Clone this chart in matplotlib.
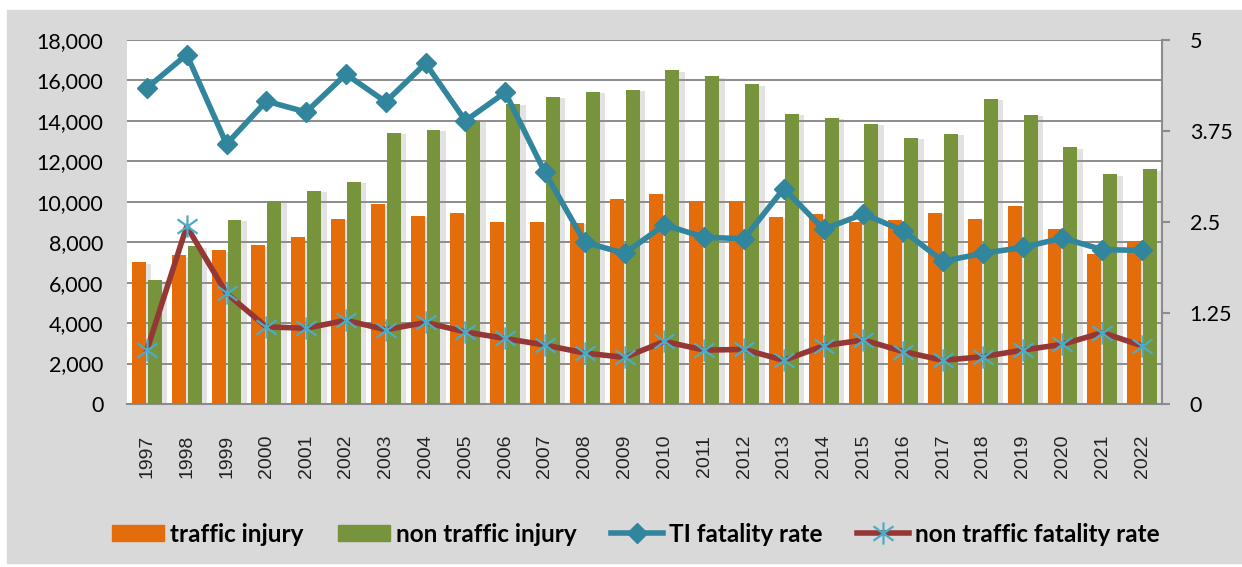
import numpy as np
import matplotlib
matplotlib.use("Agg")
import matplotlib.pyplot as plt
import matplotlib.patheffects as pe
from matplotlib.patches import Rectangle, Patch
from matplotlib.path import Path
from matplotlib.ticker import FuncFormatter

years = [str(y) for y in range(1997, 2023)]
traffic_injury = [7000, 7350, 7600, 7850, 8250, 9150, 9900, 9300, 9450, 9000,
                  9000, 8950, 10150, 10400, 10050, 10050, 9250, 9400, 9000, 9100,
                  9450, 9150, 9800, 8650, 7400, 8050]
non_traffic_injury = [6150, 7800, 9100, 10040, 10550, 11000, 13400, 13550, 14000, 14850,
                      15200, 15450, 15550, 16500, 16200, 15800, 14350, 14150, 13850, 13150,
                      13350, 15100, 14300, 12700, 11350, 11600]
ti_rate = [4.34, 4.80, 3.57, 4.16, 4.01, 4.53, 4.15, 4.68, 3.89, 4.28,
           3.18, 2.22, 2.07, 2.46, 2.29, 2.27, 2.96, 2.40, 2.61, 2.38,
           1.96, 2.07, 2.15, 2.28, 2.12, 2.11]
non_traffic_rate = [0.74, 2.44, 1.52, 1.06, 1.04, 1.15, 1.02, 1.12, 0.99, 0.90,
                    0.81, 0.70, 0.64, 0.86, 0.74, 0.75, 0.60, 0.80, 0.88, 0.72,
                    0.60, 0.65, 0.74, 0.82, 0.98, 0.80]

c_orange = "#E46C0A"
c_green = "#77933C"
c_blue = "#31859C"
c_red = "#953735"
c_star = "#4BACC6"
c_grid = "#8C8C8C"

fig = plt.figure(figsize=(12.42, 5.67), dpi=100, facecolor="white")
fig.patches.append(Rectangle((7 / 1242, 1 - 563 / 567), 1 - 7 / 1242, 553 / 567,
                             transform=fig.transFigure, color="#D9D9D9", zorder=-10))

ax = fig.add_axes([127 / 1242, 1 - 404 / 567, 1035 / 1242, 364 / 567])
ax.set_facecolor("white")
x = np.arange(len(years))
shadow = [pe.SimplePatchShadow(offset=(4, -1), shadow_rgbFace="#8f8f8f", alpha=0.25), pe.Normal()]
b1 = ax.bar(x - 0.2, traffic_injury, 0.35, color=c_orange, zorder=3)
b2 = ax.bar(x + 0.2, non_traffic_injury, 0.35, color=c_green, zorder=3)
for b in list(b1) + list(b2):
    b.set_path_effects(shadow)

ax.set_xlim(-0.5, len(years) - 0.5)
ax.set_ylim(0, 18000)
ax.set_yticks(range(0, 18001, 2000))
ax.yaxis.set_major_formatter(FuncFormatter(lambda v, p: f"{int(v):,}"))
ax.grid(axis="y", color=c_grid, lw=1.4, zorder=0)
ax.set_xticks(x)
ax.set_xticklabels(years, rotation=90, fontsize=14, family="Liberation Sans", color="#222222")
ax.tick_params(axis="x", length=0, pad=22)
ax.tick_params(axis="y", length=0, pad=17, labelsize=15.5)
for lab in ax.get_yticklabels():
    lab.set_family("Lato")
for s in ["top", "left", "right"]:
    ax.spines[s].set_visible(False)
ax.spines["bottom"].set_color(c_grid)
ax.spines["bottom"].set_linewidth(1.5)

ax2 = ax.twinx()
ax2.set_ylim(0, 5)
ax2.set_yticks([0, 1.25, 2.5, 3.75, 5])
ax2.set_yticklabels(["0", "1.25", "2.5", "3.75", "5"], family="Lato", fontsize=15.5)
ax2.tick_params(axis="y", length=6, width=1.5, color=c_grid, pad=14)
for s in ["top", "left", "bottom"]:
    ax2.spines[s].set_visible(False)
ax2.spines["right"].set_color(c_grid)
ax2.spines["right"].set_linewidth(1.5)

star = Path([(0, -1), (0, 1), (-0.9, -0.65), (0.9, 0.65), (-0.9, 0.65), (0.9, -0.65)],
            [Path.MOVETO, Path.LINETO] * 3)
l2, = ax2.plot(x, non_traffic_rate, color=c_red, lw=4, marker=star, ms=16,
               mec=c_star, mew=1.6, zorder=4, label="non traffic fatality rate")
l1, = ax2.plot(x, ti_rate, color=c_blue, lw=4, marker="D", ms=10,
               mfc=c_blue, mec=c_blue, zorder=5, label="TI fatality rate")

h1 = Patch(color=c_orange, label="traffic injury")
h2 = Patch(color=c_green, label="non traffic injury")
fig.legend(handles=[h1, h2, l1, l2], loc="center", bbox_to_anchor=(0.512, 1 - 534 / 567),
           ncol=4, frameon=False, handlelength=2.15, handleheight=0.6, handletextpad=0.25,
           columnspacing=1.4, prop={"family": "Lato", "weight": "bold", "size": 17.5})

fig.savefig("out.png", dpi=100, facecolor=fig.get_facecolor())
